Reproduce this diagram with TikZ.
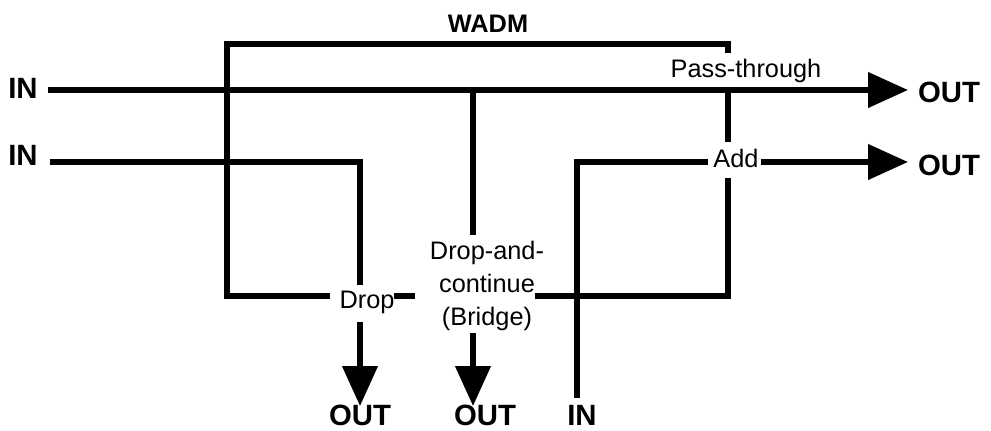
\documentclass[tikz,border=0pt]{standalone}
\usepackage{fontspec}
\setmainfont{Liberation Sans}
\usetikzlibrary{arrows.meta, positioning, calc}
\tikzset{
  line/.style={line width=4pt, color=black},
  outarrow/.style={line width=4pt, color=black, -{Triangle[length=30pt, width=26pt]}},
  port/.style={font=\fontsize{22}{24}\selectfont\bfseries, inner sep=0pt, anchor=base},
  func/.style={font=\fontsize{19}{24.75}\selectfont, inner sep=0pt, align=center},
  title/.style={font=\fontsize{19}{22}\selectfont\bfseries, inner sep=0pt, anchor=base}
}

\begin{document}
\begin{tikzpicture}[x=0.75pt, y=-0.75pt]
  \useasboundingbox (0,0) rectangle (991,430);

  % Port and title labels
  \node[title] (wadm) at (488,32) {WADM};
  \node[port] (inA) at (23,98) {IN};
  \node[port] (inB) at (23,165) {IN};
  \node[port] (inC) at (582,425) {IN};
  \node[port] (outA) at (949,102) {OUT};
  \node[port] (outB) at (949,175) {OUT};
  \node[port] (outC) at (360,425) {OUT};
  \node[port] (outD) at (485,425) {OUT};

  % Function labels
  \node[func, anchor=base] (pass) at (746,77) {Pass-through};
  \node[func, anchor=base] (add) at (736,167) {Add};
  \node[func, anchor=base] (drop) at (367,308) {Drop};
  \node[func] (bridge) at (487,286) {Drop-and-\\continue\\(Bridge)};

  % Module outline
  \coordinate (boxTR) at (728,44);
  \coordinate (boxTL) at (227,44);
  \coordinate (boxBL) at (227,296);
  \coordinate (boxBR) at (728,296);
  \coordinate (passTop) at (728,53);
  \coordinate (passBot) at (728,90);
  \coordinate (addTop) at (728,142);
  \coordinate (addBot) at (728,178);
  \coordinate (dropL) at (330,296);
  \coordinate (dropR1) at (394,296);
  \coordinate (dropR2) at (415,296);
  \coordinate (bridgeR) at (535,296);
  \draw[line] (passTop) -- (boxTR) -- (boxTL) -- (boxBL) -- (dropL);
  \draw[line] (dropR1) -- (dropR2);
  \draw[line] (bridgeR) -- (boxBR) -- (addBot);
  \draw[line] (addTop) -- (passBot);

  % Pass-through signal
  \coordinate (a0) at (48,90);
  \coordinate (a1) at (908,90);
  \draw[outarrow] (a0) -- (a1);

  % Dropped signal
  \coordinate (b0) at (50,162);
  \coordinate (b1) at (360,162);
  \coordinate (b2) at (360,285);
  \coordinate (b3) at (360,322);
  \coordinate (b4) at (360,406);
  \draw[line] (b0) -- (b1) -- (b2);
  \draw[outarrow] (b3) -- (b4);

  % Drop-and-continue
  \coordinate (c0) at (473,90);
  \coordinate (c1) at (473,235);
  \coordinate (c2) at (473,333);
  \coordinate (c3) at (473,406);
  \draw[line] (c0) -- (c1);
  \draw[outarrow] (c2) -- (c3);

  % Added signal
  \coordinate (d0) at (577,398);
  \coordinate (d1) at (577,162);
  \coordinate (d2) at (708,162);
  \coordinate (d3) at (761,162);
  \coordinate (d4) at (908,162);
  \draw[line] (d0) -- (d1) -- (d2);
  \draw[outarrow] (d3) -- (d4);
\end{tikzpicture}
\end{document}
